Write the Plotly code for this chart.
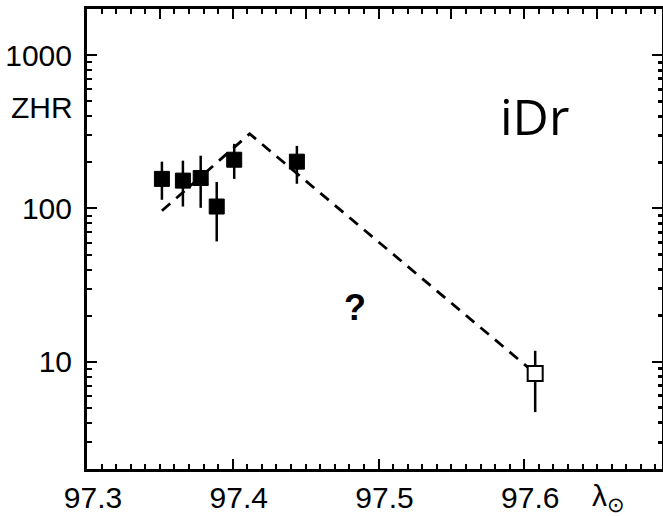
import plotly.graph_objects as go
import numpy as np

# Filled squares (observations)
obs_x = [97.3514, 97.3658, 97.378, 97.389, 97.401, 97.444]
obs_y = [156, 152, 158, 103, 208, 202]
obs_hi = [202, 205, 221, 149, 264, 256]
obs_lo = [114, 103, 101, 61, 156, 145]

# Open square
open_x = [97.6075]
open_y = [8.4]
open_hi = [11.8]
open_lo = [4.7]

# Dashed model profile
dash_x = [97.3514, 97.4116, 97.6075]
dash_y = [96.6, 307, 8.4]

xtick_vals = [97.3, 97.35, 97.4, 97.45, 97.5, 97.55, 97.6, 97.65]
xtick_text = ["97.3", "", "97.4", "", "97.5", "", "97.6", ""]
ytick_vals = [10, 100, 1000]
ytick_text = ["10", "100", "1000"]
yminor_vals = [m * d for d in [1, 10, 100, 1000] for m in range(2, 10)]
xminor_vals = [round(97.3 + 0.01 * i, 2) for i in range(0, 41)]

fig = go.Figure()

fig.add_trace(go.Scatter(
    x=dash_x, y=dash_y, mode="lines",
    line=dict(color="black", width=2.8, dash="11px,8px"),
    showlegend=False, hoverinfo="skip"))

fig.add_trace(go.Scatter(
    x=obs_x, y=obs_y, mode="markers",
    marker=dict(symbol="square", size=15, color="black", line=dict(color="black", width=1)),
    error_y=dict(type="data", symmetric=False,
                 array=[h - v for h, v in zip(obs_hi, obs_y)],
                 arrayminus=[v - l for l, v in zip(obs_lo, obs_y)],
                 thickness=2.5, width=0, color="black"),
    showlegend=False))

fig.add_trace(go.Scatter(
    x=open_x, y=open_y, mode="markers",
    marker=dict(symbol="square", size=15, color="white", line=dict(color="black", width=2)),
    error_y=dict(type="data", symmetric=False,
                 array=[h - v for h, v in zip(open_hi, open_y)],
                 arrayminus=[v - l for l, v in zip(open_lo, open_y)],
                 thickness=2.5, width=0, color="black"),
    showlegend=False))

# invisible trace for the top / right axes
fig.add_trace(go.Scatter(x=[97.5], y=[100], xaxis="x2", yaxis="y2",
                         mode="markers", marker=dict(opacity=0),
                         showlegend=False, hoverinfo="skip"))

xr = [97.3, 97.6945]
yr = [np.log10(2), np.log10(2000)]
tickfont = dict(family="Liberation Sans, Arial", size=30, color="black")

fig.update_layout(
    width=663, height=516,
    margin=dict(l=87, r=1, t=9, b=47),
    paper_bgcolor="white", plot_bgcolor="white",
    xaxis=dict(range=xr, showgrid=False, zeroline=False,
               showline=True, linewidth=3, linecolor="black",
               tickmode="array", tickvals=xtick_vals, ticktext=xtick_text,
               ticks="inside", ticklen=10, tickwidth=2, tickcolor="black",
               tickfont=tickfont, ticklabelshift=6, ticklabelstandoff=0,
               minor=dict(tickvals=xminor_vals, ticks="inside", ticklen=5,
                          tickwidth=2, tickcolor="black"),
               automargin=False),
    yaxis=dict(type="log", range=yr, showgrid=False, zeroline=False,
               showline=True, linewidth=3, linecolor="black",
               tickmode="array", tickvals=ytick_vals, ticktext=ytick_text,
               ticks="inside", ticklen=10, tickwidth=2, tickcolor="black",
               tickfont=tickfont, ticklabelstandoff=6,
               minor=dict(tickvals=yminor_vals, ticks="inside", ticklen=5,
                          tickwidth=2, tickcolor="black"),
               automargin=False),
    xaxis2=dict(range=xr, overlaying="x", side="top", anchor="y2",
                showgrid=False, zeroline=False,
                showline=True, linewidth=3, linecolor="black",
                tickmode="array", tickvals=xtick_vals, showticklabels=False,
                ticks="inside", ticklen=10, tickwidth=2, tickcolor="black",
                minor=dict(tickvals=xminor_vals, ticks="inside", ticklen=5,
                           tickwidth=2, tickcolor="black"),
                automargin=False),
    yaxis2=dict(type="log", range=yr, overlaying="y", side="right", anchor="x2",
                showgrid=False, zeroline=False,
                showline=True, linewidth=3, linecolor="black",
                tickmode="array", tickvals=ytick_vals, showticklabels=False,
                ticks="inside", ticklen=10, tickwidth=2, tickcolor="black",
                minor=dict(tickvals=yminor_vals, ticks="inside", ticklen=4,
                           tickwidth=3, tickcolor="black"),
                automargin=False),
)

fig.add_annotation(x=97.607, y=np.log10(400), xref="x", yref="y",
                   text="iDr", showarrow=False,
                   font=dict(family="Open Sans", size=50, color="black"))
fig.add_annotation(x=97.4836, y=np.log10(22.5), xref="x", yref="y",
                   text="<b>?</b>", showarrow=False,
                   font=dict(family="Liberation Sans, Arial", size=36, color="black"))
fig.add_annotation(x=-0.078, y=0.785, xref="paper", yref="paper",
                   xanchor="center", yanchor="middle",
                   text="ZHR", showarrow=False,
                   font=dict(family="Liberation Sans, Arial", size=30, color="black"))
fig.add_annotation(x=97.658, y=0, xref="x", yref="paper", yshift=-28,
                   xanchor="center", yanchor="middle",
                   text="λ<sub>⊙</sub>", showarrow=False,
                   font=dict(family="Liberation Sans, Arial", size=30, color="black"))

fig.write_html("out.html")
